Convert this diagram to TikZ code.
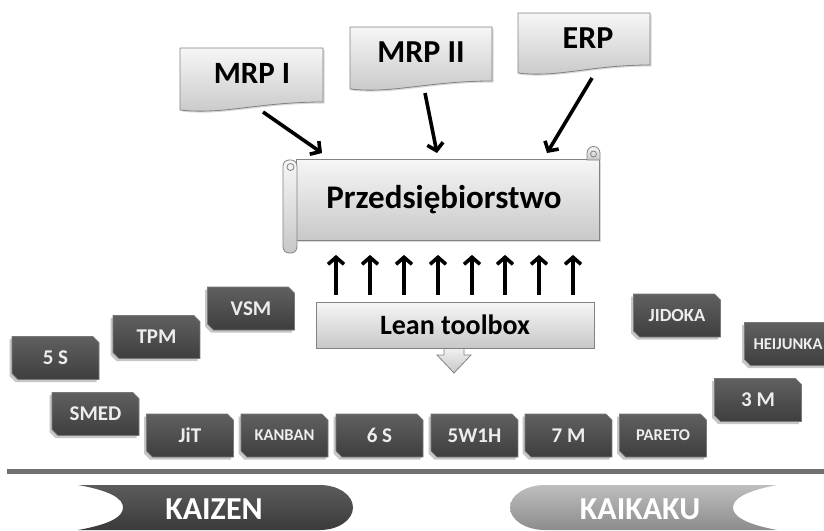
\documentclass[tikz,border=0pt]{standalone}
\usepackage{fontspec}
\setmainfont{Carlito}
\usetikzlibrary{shapes.misc,arrows.meta,shadows,calc}
\definecolor{tagtop}{RGB}{96,96,96}
\definecolor{tagbot}{RGB}{62,62,62}
\definecolor{lighttop}{RGB}{246,246,246}
\definecolor{lightbot}{RGB}{200,200,200}
\definecolor{edge}{RGB}{130,130,130}
\definecolor{sepline}{RGB}{112,112,112}
\definecolor{kzdark}{RGB}{92,92,92}
\definecolor{kzdarkb}{RGB}{58,58,58}
\definecolor{kklight}{RGB}{190,190,190}
\definecolor{kklightb}{RGB}{140,140,140}
\newcommand\docpath[4]{%
  \pgfmathsetmacro\dw{#3-#1}%
  \pgfmathsetmacro\ca{#1+0.55*\dw}%
  \pgfmathsetmacro\cb{#1+0.3*\dw}%
  \pgfmathsetmacro\yr{#4-8}%
  \pgfmathsetmacro\yc{#4+5}%
  \path[docfill] (#1,#2) -- (#3,#2) -- (#3,\yr) .. controls (\ca,\yr) and (\cb,\yc) .. (#1,#4) -- cycle;}
\begin{document}
\begin{tikzpicture}[x=1pt,y=-1pt,
  tagbox/.style={chamfered rectangle, chamfered rectangle corners={north east,south west},
    chamfered rectangle sep=3pt,
    top color=tagtop, bottom color=tagbot, draw=tagbot!70!white, line width=0.6pt,
    text=white!93!black, font=\bfseries\fontsize{21}{21}\selectfont,
    minimum width=87pt, minimum height=43pt, inner sep=0pt,
    drop shadow={shadow xshift=-2.5pt, shadow yshift=-2.5pt, opacity=.45, fill=gray}},
  smalltag/.style={tagbox, font=\bfseries\fontsize{16.5}{16.5}\selectfont},
  docfill/.style={draw=edge, line width=0.8pt, top color=lighttop, bottom color=lightbot,
    drop shadow={shadow xshift=1.5pt, shadow yshift=-1.5pt, opacity=.3, fill=gray}},
  doctext/.style={font=\bfseries\fontsize{32}{32}\selectfont, inner sep=0pt},
  lightfill/.style={draw=edge, line width=0.8pt, top color=lighttop, bottom color=lightbot},
  arr/.style={line width=3.6pt, -{Straight Barb[length=7pt,width=16pt]}},
  bandtext/.style={text=white, font=\bfseries\fontsize{32}{32}\selectfont, inner sep=0pt}
]
\useasboundingbox (0,0) rectangle (824,530);

% --- documents ---
\docpath{180}{48}{323}{110}
\node[doctext, font=\bfseries\fontsize{31}{31}\selectfont] (mrp1) at (252,73) {MRP I};
\docpath{350}{27}{492}{89}
\node[doctext] (mrp2) at (421,52) {MRP II};
\docpath{518}{13}{650}{73}
\node[doctext] (erp) at (588,38) {ERP};

% --- scroll ---
\node[rectangle, lightfill, minimum width=303pt, minimum height=81pt, inner sep=0pt,
  drop shadow={shadow xshift=1.5pt, shadow yshift=-1.5pt, opacity=.3, fill=gray}] (firm) at (447.5,200) {};
\node[font=\bfseries\fontsize{33}{33}\selectfont, inner sep=0pt, anchor=base] (firmt) at (444,208) {Przedsiębiorstwo};
\draw[lightfill, rounded corners=6pt] (283,160) rectangle (297,253);
\draw[edge, line width=0.8pt] (290.5,167) circle (3.5pt);
\draw[lightfill] (587,160) -- (587,153) arc (180:360:6.5) -- (600,160) -- cycle;
\draw[edge, line width=0.8pt] (593.5,154) circle (3pt);

% --- arrows into the firm ---
\coordinate (a1s) at (263,112);
\coordinate (a2s) at (425,93);
\coordinate (a3s) at (592,78);
\coordinate (a1e) at (322,153);
\coordinate (a2e) at (437,153);
\coordinate (a3e) at (547,153);
\draw[arr] (a1s) -- (a1e);
\draw[arr] (a2s) -- (a2e);
\draw[arr] (a3s) -- (a3e);

% --- lean toolbox ---
\path[lightfill] (444,345) -- (444,355) -- (437,355) -- (454,373) -- (471,355) -- (464,355) -- (464,345);
\node[rectangle, lightfill, minimum width=278pt, minimum height=46pt, inner sep=0pt,
  font=\bfseries\fontsize{28}{28}\selectfont] (lean) at (455,325) {Lean toolbox};
\foreach \dx in {-119,-85,-51,-17,17,50,84,118}{
  \draw[arr] ($(lean.north)+(\dx,-7)$) -- ($(firm.south)+(\dx+7.5,14)$);
}

% --- tags ---
\node[tagbox] (t5s) at (55.5,358) {5 S};
\node[tagbox] (ttpm) at (156.5,337) {TPM};
\node[tagbox] (tvsm) at (251,308.5) {VSM};
\node[tagbox] (tsmed) at (95.5,414) {SMED};
\node[tagbox] (tjit) at (190,435.5) {JiT};
\node[smalltag] (tkanban) at (284.5,435.5) {KANBAN};
\node[tagbox] (t6s) at (379.5,435.5) {6 S};
\node[tagbox] (t5w) at (474.5,435.5) {5W1H};
\node[tagbox] (t7m) at (568.5,435.5) {7 M};
\node[smalltag] (tpareto) at (663,435.5) {PARETO};
\node[tagbox] (t3m) at (758,400) {3 M};
\node[tagbox, font=\bfseries\fontsize{18.5}{18.5}\selectfont] (tjidoka) at (677,315.5) {JIDOKA};
\node[smalltag] (theij) at (788,344) {HEIJUNKA};

% --- separator ---
\draw[line width=5pt, sepline] (7,471) -- (824,471);

% --- bands ---
\path[top color=kzdark, bottom color=kzdarkb]
  (78,485) -- (320,485) arc (270:450:33 and 22.5) -- (78,530)
  .. controls (112,524) and (123,516) .. (123,507.5)
  .. controls (123,499) and (112,491) .. (78,485) -- cycle;
\node[bandtext] (kaizen) at (214,509) {KAIZEN};
\path[top color=kklight, bottom color=kklightb]
  (545,485) -- (777,485)
  .. controls (745,491) and (733,499) .. (733,507.5)
  .. controls (733,516) and (745,524) .. (777,530)
  -- (545,530) arc (90:270:35 and 22.5) -- cycle;
\node[bandtext] (kaikaku) at (640,509) {KAIKAKU};
\end{tikzpicture}
\end{document}
